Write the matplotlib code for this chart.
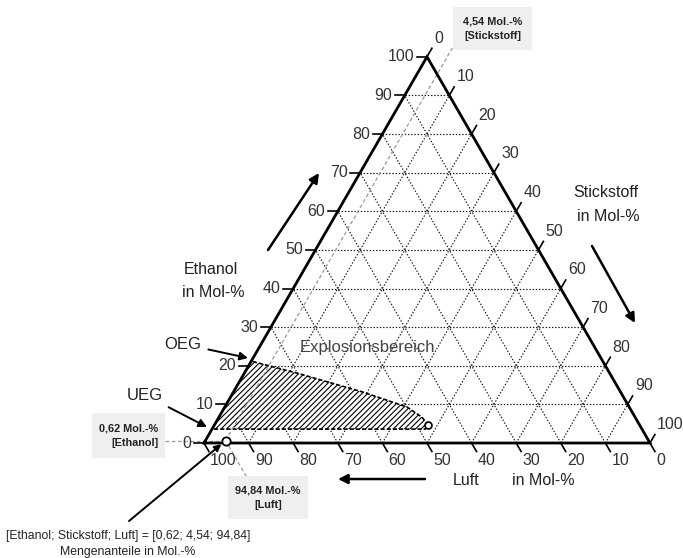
import numpy as np
import matplotlib.pyplot as plt
from matplotlib.patches import Polygon, Rectangle

plt.rcParams['font.family'] = ['Liberation Sans', 'DejaVu Sans']
plt.rcParams['hatch.linewidth'] = 0.8

# --- data (Mol.-%) ---
ticks = [0, 10, 20, 30, 40, 50, 60, 70, 80, 90, 100]
grid_vals = [10, 20, 30, 40, 50, 60, 70, 80, 90]

# mixture point [Ethanol; Stickstoff; Luft]
mix_ethanol = 0.62
mix_stickstoff = 4.54
mix_luft = 94.84

# Explosionsbereich outline as (Ethanol, Stickstoff) pairs
ex_ethanol = [3.6, 21.2, 18.1, 13.2, 9.3, 6.7, 4.7, 3.6]
ex_stickstoff = [0.0, 0.0, 11.8, 29.0, 40.9, 45.5, 47.9, 47.8]

H = np.sqrt(3) / 2


def tern(e, s):
    # Ethanol at top, Stickstoff bottom right, Luft bottom left
    e = np.asarray(e, dtype=float)
    s = np.asarray(s, dtype=float)
    return s + e / 2, e * H


def P(px, py):
    # figure pixel -> data coords (for labels / annotations only)
    return (px - 204) / 4.46, (443 - py) / 4.46


fig = plt.figure(figsize=(6.83, 5.58), dpi=100)
ax = fig.add_axes([0, 0, 1, 1])
ax.set_xlim(-45.74, 107.4)
ax.set_ylim(-25.78, 99.33)
ax.axis('off')

# grid lines
gkw = dict(color='#1a1a1a', lw=0.85, ls=(0, (1.2, 1.5)), zorder=1)
for v in grid_vals:
    x, y = tern([v, v], [0, 100 - v])
    ax.plot(x, y, **gkw)
    x, y = tern([0, 100 - v], [v, v])
    ax.plot(x, y, **gkw)
    x, y = tern([0, 100 - v], [100 - v, 0])
    ax.plot(x, y, **gkw)

# explosion range
ex_x, ex_y = tern(ex_ethanol, ex_stickstoff)
poly = Polygon(np.column_stack([ex_x, ex_y]), closed=True, facecolor='white',
               edgecolor='black', hatch='//////', lw=1.2, ls=(0, (2.5, 1.2)), zorder=2)
ax.add_patch(poly)
ax.plot(ex_x[6], ex_y[6], 'o', mfc='white', mec='black', ms=5, mew=1.2, zorder=4)

# triangle frame
x, y = tern([0, 100, 0, 0], [0, 0, 100, 0])
ax.plot(x, y, color='black', lw=2, zorder=3, solid_joinstyle='miter')

# tick marks and labels
tcol = '#333333'
for v in ticks:
    # Ethanol (left edge)
    x, y = tern(v, 0)
    ax.plot([x - 2.2, x], [y, y], color='black', lw=1.2, zorder=3)
    ax.text(x - 2.8, y, str(v), ha='right', va='center', fontsize=11.5, color=tcol)
    # Stickstoff (right edge)
    x, y = tern(100 - v, v)
    ax.plot([x, x + 1.1], [y, y + 2.2 * H], color='black', lw=1.2, zorder=3)
    ax.text(x + 1.6, y + 4.2, str(v), ha='left', va='center', fontsize=11.5, color=tcol)
    # Luft (bottom edge)
    x, y = tern(0, 100 - v)
    ax.plot([x, x + 1.1], [y, y - 2.2 * H], color='black', lw=1.2, zorder=3)
    ax.text(x + 1.4, y - 3.9, str(v), ha='left', va='center', fontsize=11.5, color=tcol)

# axis titles and direction arrows
ax.text(*P(211, 269), 'Ethanol', ha='center', va='center', fontsize=11.5, color='#222222')
ax.text(*P(213, 292), 'in Mol-%', ha='center', va='center', fontsize=11.5, color='#222222')
ax.text(*P(606, 192), 'Stickstoff', ha='center', va='center', fontsize=11.5, color='#222222')
ax.text(*P(608, 216), 'in Mol-%', ha='center', va='center', fontsize=11.5, color='#222222')
ax.text(*P(466, 480), 'Luft', ha='center', va='center', fontsize=11.5, color='#222222')
ax.text(*P(543, 480), 'in Mol-%', ha='center', va='center', fontsize=11.5, color='#222222')

akw = dict(arrowstyle='-|>', lw=1.8, color='black', mutation_scale=14, shrinkA=0, shrinkB=0)
ax.annotate('', xy=P(319, 173), xytext=P(268, 250), arrowprops=akw)
ax.annotate('', xy=P(635, 323), xytext=P(592, 246), arrowprops=akw)
ax.annotate('', xy=P(338, 479), xytext=P(425, 479), arrowprops=akw)

ax.text(*P(367, 347), 'Explosionsbereich', ha='center', va='center', fontsize=12,
        color='#444444', zorder=5)

# OEG / UEG
okw = dict(arrowstyle='-|>', lw=1.4, color='black', mutation_scale=12, shrinkA=3, shrinkB=0)
ax.annotate('OEG', xy=P(248, 358), xytext=P(183, 344), ha='center', va='center',
            fontsize=12, color='#222222', arrowprops=okw)
ax.annotate('UEG', xy=P(207, 427), xytext=P(145, 395), ha='center', va='center',
            fontsize=12, color='#222222', arrowprops=okw)

# mixture point and guide lines
mx, my = tern(mix_ethanol, mix_stickstoff)
dkw = dict(color='#9a9a9a', lw=0.9, ls=(0, (3, 2)), zorder=2)
ax.plot([P(165, 0)[0], mx], [my, my], **dkw)
t_top = (P(0, 48)[1] - my) / H
ax.plot([mx, mx + 0.5 * t_top], [my, my + H * t_top], **dkw)
t_bot = (my - P(0, 477)[1]) / H
ax.plot([mx, mx + 0.5 * t_bot], [my, my - H * t_bot], **dkw)
ax.plot(mx, my, 'o', mfc='white', mec='black', ms=6, mew=1.3, zorder=6)


# value boxes
def value_box(x0, y0, x1, y1, lines, ha='center'):
    a = P(x0, y1)
    b = P(x1, y0)
    ax.add_patch(Rectangle(a, b[0] - a[0], b[1] - a[1], facecolor='#efefef',
                           edgecolor='none', zorder=4))
    cx = (a[0] + b[0]) / 2 if ha == 'center' else b[0] - 1.5
    cy = (a[1] + b[1]) / 2
    ax.text(cx, cy, lines, ha=ha, va='center', fontsize=7.8, fontweight='bold',
            color='#222222', linespacing=1.5, multialignment=ha, zorder=5)


value_box(453, 7, 532, 50, '4,54 Mol.-%\n[Stickstoff]')
value_box(92, 413, 165, 458, '0,62 Mol.-%\n[Ethanol]', ha='right')
value_box(228, 476, 308, 519, '94,84 Mol.-%\n[Luft]')

# bottom annotation
ax.annotate('', xy=(mx, my), xytext=P(129, 521),
            arrowprops=dict(arrowstyle='-|>', lw=1.4, color='black', mutation_scale=10,
                            shrinkA=0, shrinkB=4))
ax.text(*P(128, 536), '[Ethanol; Stickstoff; Luft] = [0,62; 4,54; 94,84]', ha='center',
        va='center', fontsize=8.8, color='#222222')
ax.text(*P(128, 552), 'Mengenanteile in Mol.-%', ha='center', va='center',
        fontsize=8.8, color='#222222')

plt.savefig('out.png', dpi=100)
